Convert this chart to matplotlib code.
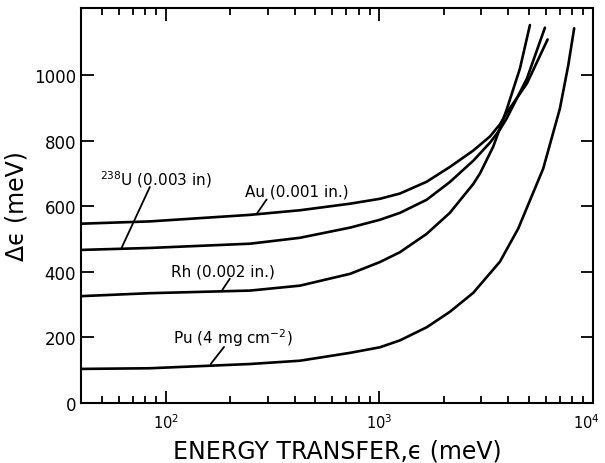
import matplotlib.pyplot as plt
import matplotlib.transforms as mtransforms
from matplotlib.ticker import LogLocator, FixedLocator, NullFormatter

# values (energy transfer in meV, resolution in meV)
au_e = [40, 84, 248, 424, 728, 1005, 1247, 1664, 2136, 2750, 3293, 3667, 3944, 4909, 6135]
au_d = [547, 554, 574, 588, 608, 623, 639, 675, 720, 770, 813, 850, 885, 975, 1109]

u_e = [40, 84, 248, 424, 728, 1005, 1247, 1664, 2136, 2750, 3293, 3667, 3944, 4909, 5960]
u_d = [467, 473, 486, 504, 535, 559, 580, 620, 674, 739, 794, 834, 868, 990, 1145]

rh_e = [40, 84, 248, 424, 728, 1005, 1247, 1664, 2136, 2750, 2957, 3412, 3944, 4550, 5070]
rh_d = [326, 335, 343, 358, 394, 430, 460, 516, 580, 668, 700, 782, 895, 1020, 1153]

pu_e = [40, 84, 248, 424, 728, 1005, 1247, 1664, 2136, 2750, 3667, 4467,
        5850, 7003, 7660, 8170]
pu_d = [104, 106, 119, 129, 153, 170, 191, 231, 278, 336, 431, 532,
        715, 898, 1029, 1143]

y_ticks = [0, 200, 400, 600, 800, 1000]
x_ticks = [1e2, 1e3, 1e4]

fig = plt.figure(figsize=(6.05, 4.64), dpi=100)
ax = fig.add_axes([0.134, 0.1293, 0.846, 0.8513])

for e, d in [(au_e, au_d), (u_e, u_d), (rh_e, rh_d), (pu_e, pu_d)]:
    ax.plot(e, d, color='black', lw=1.9, solid_capstyle='round', solid_joinstyle='round')

ax.set_xscale('log')
ax.set_xlim(40, 1e4)
ax.set_ylim(0, 1205)
ax.yaxis.set_major_locator(FixedLocator(y_ticks))
ax.xaxis.set_major_locator(FixedLocator(x_ticks))
ax.xaxis.set_minor_locator(LogLocator(base=10, subs=range(2, 10)))
ax.xaxis.set_minor_formatter(NullFormatter())

ax.tick_params(which='both', direction='in', top=True, right=True, width=1.3)
ax.tick_params(which='major', length=9)
ax.tick_params(which='minor', length=5)
ax.tick_params(axis='y', labelsize=12)
ax.tick_params(axis='x', labelsize=10.5, pad=7)
for s in ax.spines.values():
    s.set_linewidth(1.5)

# keep the 10^4 label inside the canvas
last = ax.get_xticklabels()[-1]
last.set_transform(last.get_transform()
                   + mtransforms.ScaledTranslation(-5 / 72, 0, fig.dpi_scale_trans))

ax.set_xlabel('ENERGY TRANSFER,\u03f5 (meV)', fontsize=17, labelpad=5)
ax.set_ylabel('\u0394\u03f5 (meV)', fontsize=17, labelpad=4)

# curve labels and their pointer strokes
lab = dict(fontsize=11, va='baseline', ha='left')
ax.text(49, 668, '$^{238}$U (0.003 in)', **lab)
ax.text(235, 632, 'Au (0.001 in.)', **lab)
ax.text(106, 388, 'Rh (0.002 in.)', **lab)
ax.text(108, 182, 'Pu (4 mg cm$^{-2}$)', **lab)

stroke = dict(arrowstyle='-', lw=1.3, color='black', shrinkA=0, shrinkB=0)
ax.annotate('', xy=(62, 474), xytext=(84, 659), arrowprops=stroke)
ax.annotate('', xy=(266, 577), xytext=(296, 621), arrowprops=stroke)
ax.annotate('', xy=(184, 346), xytext=(199, 379), arrowprops=stroke)
ax.annotate('', xy=(162, 119), xytext=(187, 171), arrowprops=stroke)

fig.savefig('out.png', dpi=100)
